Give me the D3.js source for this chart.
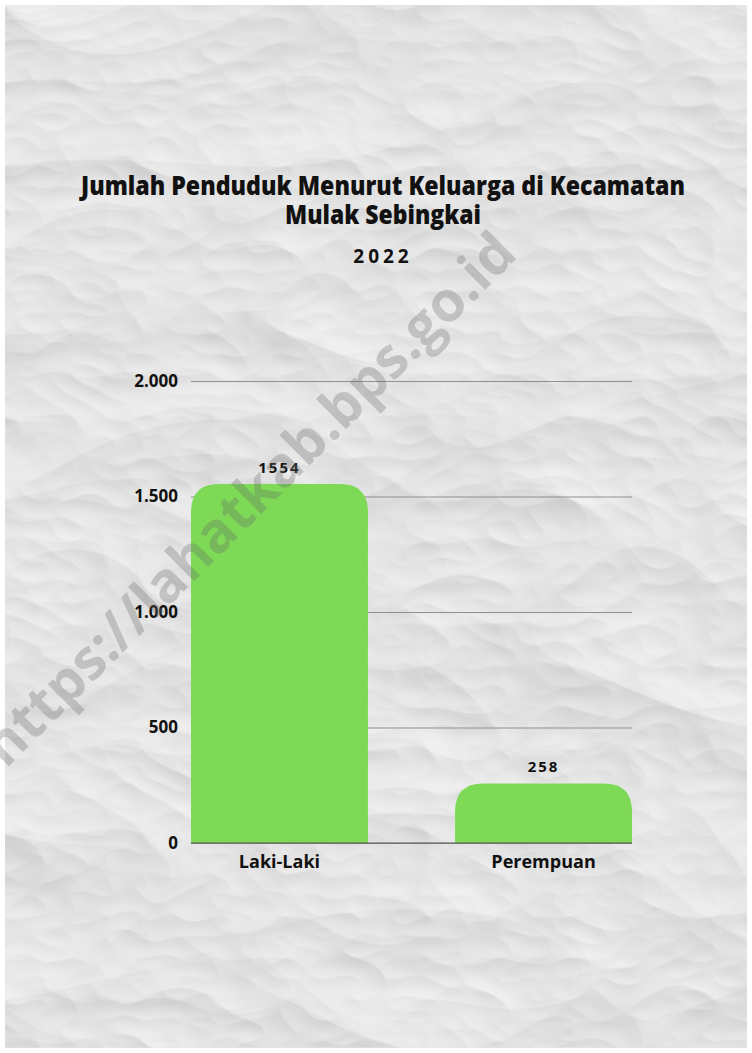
<!DOCTYPE html>
<html>
<head>
<meta charset="utf-8">
<script src="https://cdn.jsdelivr.net/npm/d3@7"></script>
<style>
  body { margin: 0; background: #fff; }
  svg text { font-family: "Open Sans", "Noto Sans", sans-serif; }
</style>
</head>
<body>
<div id="chart"></div>
<script>
// chart data
var categories = ["Laki-Laki", "Perempuan"];
var values = [1554, 258];
var yTicks = [0, 500, 1000, 1500, 2000];

var svgWidth = 752;
var svgHeight = 1053;

var margin = { top: 381, right: 120, bottom: 210, left: 191 };
var width = 632 - margin.left;
var height = 843 - margin.top;

var svg = d3.select("#chart")
  .append("svg")
  .attr("width", svgWidth)
  .attr("height", svgHeight);

// crumpled paper texture
var defs = svg.append("defs");
var f = defs.append("filter").attr("id", "paper")
  .attr("x", 0).attr("y", 0).attr("width", "100%").attr("height", "100%");
f.append("feTurbulence")
  .attr("type", "turbulence")
  .attr("baseFrequency", "0.0035 0.006")
  .attr("numOctaves", 4)
  .attr("seed", 23)
  .attr("result", "noise");
var light = f.append("feDiffuseLighting")
  .attr("in", "noise")
  .attr("lighting-color", "#ffffff")
  .attr("surfaceScale", 9)
  .attr("result", "lit");
light.append("feDistantLight").attr("azimuth", 120).attr("elevation", 45);
f.append("feColorMatrix")
  .attr("in", "lit")
  .attr("type", "matrix")
  .attr("values", "0.5 0 0 0 0.42  0.5 0 0 0 0.42  0.5 0 0 0 0.42  0 0 0 0 1");

svg.append("rect")
  .attr("x", 5).attr("y", 5)
  .attr("width", svgWidth - 10).attr("height", svgHeight - 10)
  .attr("filter", "url(#paper)");

// title
svg.append("text")
  .attr("x", 383).attr("y", 195)
  .attr("text-anchor", "middle")
  .attr("textLength", 604)
  .attr("lengthAdjust", "spacingAndGlyphs")
  .style("font-size", "27px")
  .style("font-weight", "800")
  .attr("fill", "#111")
  .text("Jumlah Penduduk Menurut Keluarga di Kecamatan");
svg.append("text")
  .attr("x", 383).attr("y", 224)
  .attr("text-anchor", "middle")
  .attr("textLength", 196)
  .attr("lengthAdjust", "spacingAndGlyphs")
  .style("font-size", "27px")
  .style("font-weight", "800")
  .attr("fill", "#111")
  .text("Mulak Sebingkai");
svg.append("text")
  .attr("x", 383).attr("y", 263)
  .attr("text-anchor", "middle")
  .style("font-size", "19px")
  .style("font-weight", "bold")
  .style("letter-spacing", "4px")
  .attr("fill", "#111")
  .text("2022");

var chartGroup = svg.append("g")
  .attr("transform", `translate(${margin.left}, ${margin.top})`);

var xBandScale = d3.scaleBand()
  .domain(categories)
  .range([0, width])
  .paddingInner(0.33)
  .paddingOuter(0);

var yLinearScale = d3.scaleLinear()
  .domain([0, 2000])
  .range([height, 0]);

// gridlines + y labels
var leftAxis = d3.axisLeft(yLinearScale)
  .tickValues(yTicks)
  .tickSize(-width)
  .tickPadding(13)
  .tickFormat(d => d3.format(",")(d).replace(/,/g, "."));

var yAxis = chartGroup.append("g").call(leftAxis);
yAxis.select(".domain").remove();
yAxis.selectAll(".tick line")
  .attr("stroke", "#8f8f8f")
  .attr("stroke-width", 1);
yAxis.selectAll(".tick text")
  .style("font-size", "17px")
  .style("font-weight", "bold")
  .attr("fill", "#111");

// bars with rounded tops
var r = 28;
function barPath(d, i) {
  var x0 = xBandScale(categories[i]);
  var x1 = x0 + xBandScale.bandwidth();
  var y0 = yLinearScale(d);
  var y1 = yLinearScale(0);
  var rr = Math.min(r, (y1 - y0));
  return `M${x0},${y1} L${x0},${y0 + rr} Q${x0},${y0} ${x0 + rr},${y0} ` +
    `L${x1 - rr},${y0} Q${x1},${y0} ${x1},${y0 + rr} L${x1},${y1} Z`;
}

chartGroup.selectAll(".bar")
  .data(values)
  .enter()
  .append("path")
  .attr("class", "bar")
  .attr("d", barPath)
  .attr("fill", "#7ed957");

// baseline
chartGroup.append("line")
  .attr("x1", 0).attr("x2", width)
  .attr("y1", height).attr("y2", height)
  .attr("stroke", "#555")
  .attr("stroke-width", 1.2);

// value labels
chartGroup.selectAll(".val")
  .data(values)
  .enter()
  .append("text")
  .attr("class", "val")
  .attr("x", (d, i) => xBandScale(categories[i]) + xBandScale.bandwidth() / 2)
  .attr("y", d => yLinearScale(d) - 11)
  .attr("text-anchor", "middle")
  .style("font-size", "15px")
  .style("font-weight", "bold")
  .style("letter-spacing", "2px")
  .attr("fill", "#111")
  .text(d => d);

// x labels
var bottomAxis = d3.axisBottom(xBandScale).tickSize(0).tickPadding(12);
var xAxis = chartGroup.append("g")
  .attr("transform", `translate(0, ${height})`)
  .call(bottomAxis);
xAxis.select(".domain").remove();
xAxis.selectAll(".tick text")
  .style("font-size", "18px")
  .style("font-weight", "bold")
  .attr("fill", "#111");

// watermark (drawn over the bars)
svg.append("text")
  .attr("transform", "translate(252,502) rotate(-45)")
  .attr("text-anchor", "middle")
  .attr("dominant-baseline", "middle")
  .style("font-size", "56px")
  .style("font-weight", "bold")
  .attr("fill", "#6a6a6a")
  .attr("opacity", 0.3)
  .text("https://lahatkab.bps.go.id");
</script>
</body>
</html>
